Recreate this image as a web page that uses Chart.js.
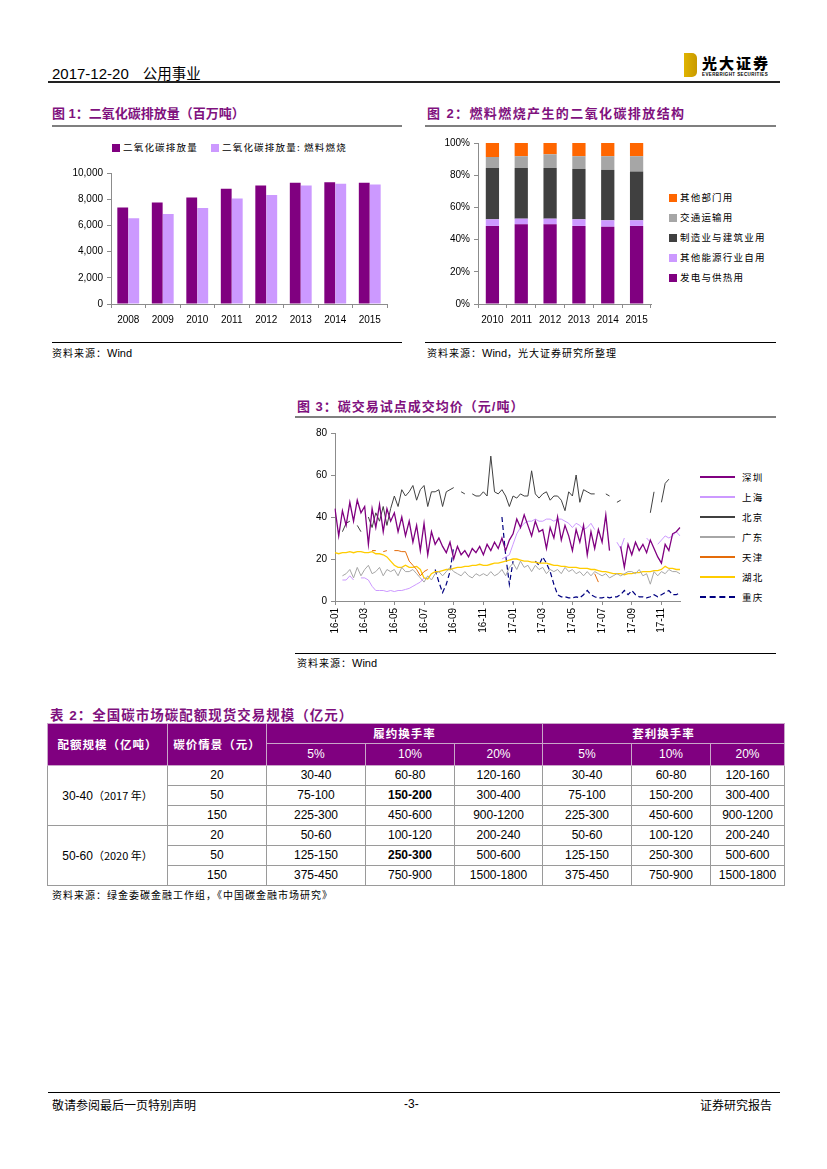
<!DOCTYPE html>
<html>
<head>
<meta charset="utf-8">
<script src="https://cdn.jsdelivr.net/npm/chart.js"></script>
<style>
  body { margin: 0; width: 827px; height: 1169px; background: #fff; position: relative; font-family: "Liberation Sans", Arial, sans-serif; color: #000; }
  .abs { position: absolute; }
  .cjk { font-family: "Noto Sans CJK SC", sans-serif; }
  .title { position: absolute; font-family: "Liberation Sans", "Noto Sans CJK SC", sans-serif; font-weight: bold; font-size: 13px; color: #7f117e; letter-spacing: 1px; white-space: nowrap; }
  .gline { position: absolute; height: 2px; background: #7f7f7f; }
  .bline { position: absolute; height: 1px; background: #000; }
  .src { position: absolute; font-size: 11px; white-space: nowrap; }
  .src .c { font-family: "Noto Sans CJK SC", sans-serif; font-size: 10px; letter-spacing: 1px; }
  .leg { position: absolute; font-family: "Noto Sans CJK SC", sans-serif; font-size: 9.5px; letter-spacing: 1.2px; white-space: nowrap; line-height: 12px; }
  .leg i { display: inline-block; width: 8px; height: 8px; vertical-align: -1px; margin-right: 3px; }
  .leg b { display: inline-block; width: 35px; height: 0; vertical-align: 3px; margin-right: 7px; }
  canvas { position: absolute; }
  table { position: absolute; left: 47px; top: 723px; border-collapse: collapse; table-layout: fixed; font-size: 12px; }
  td, th { padding: 0; text-align: center; border: 1px solid #9a9a9a; height: 19px; line-height: 19px; }
  th { background: #800080; color: #fff; border-color: #c9a6c9; font-weight: normal; }
  th.cj { font-family: "Noto Sans CJK SC", sans-serif; font-weight: bold; font-size: 11.5px; letter-spacing: 1px; }
  td.cj small { font-family: "Noto Sans CJK SC", sans-serif; font-size: 11px; }
</style>
</head>
<body>
<!-- header -->
<div class="abs" style="left:52px;top:62px;font-size:15px;white-space:nowrap;">2017-12-20<span class="cjk" style="margin-left:14px;font-size:14.5px;">公用事业</span></div>
<div class="abs" style="left:684px;top:53px;width:13px;height:24px;background:linear-gradient(90deg,#e0b400,#c99a00);border-radius:0 5px 5px 0;"></div>
<div class="abs cjk" style="left:702px;top:52px;font-size:15px;font-weight:900;letter-spacing:2px;">光大证券</div>
<div class="abs" style="left:702px;top:72px;font-size:4.5px;font-weight:bold;letter-spacing:0.4px;">EVERBRIGHT SECURITIES</div>
<div class="abs" style="left:48px;top:81px;width:732px;height:2px;background:#222;"></div>

<!-- figure 1 -->
<div class="title" style="left:52px;top:103px;letter-spacing:0;">图 1：二氧化碳排放量（百万吨）</div>
<div class="gline" style="left:52px;top:125px;width:350px;"></div>
<div class="leg" style="left:112px;top:141px;"><i style="background:#800080"></i>二氧化碳排放量</div>
<div class="leg" style="left:211px;top:141px;"><i style="background:#cc99ff"></i>二氧化碳排放量: 燃料燃烧</div>
<canvas id="c1" width="345" height="170" style="left:52px;top:163px;"></canvas>
<div class="bline" style="left:52px;top:342px;width:350px;"></div>
<div class="src" style="left:52px;top:345px;"><span class="c">资料来源：</span>Wind</div>

<!-- figure 2 -->
<div class="title" style="left:427px;top:103px;letter-spacing:1.4px;">图 2：燃料燃烧产生的二氧化碳排放结构</div>
<div class="gline" style="left:425px;top:125px;width:351px;"></div>
<canvas id="c2" width="236" height="200" style="left:425px;top:133px;"></canvas>
<div id="leg2"></div>
<div class="bline" style="left:425px;top:342px;width:351px;"></div>
<div class="src" style="left:427px;top:345px;"><span class="c">资料来源：</span>Wind<span class="c">，光大证券研究所整理</span></div>

<!-- figure 3 -->
<div class="title" style="left:297px;top:396px;">图 3：碳交易试点成交均价（元/吨）</div>
<div class="gline" style="left:295px;top:416px;width:481px;"></div>
<canvas id="c3" width="393" height="220" style="left:297px;top:423px;"></canvas>
<div id="leg3"></div>
<div class="bline" style="left:295px;top:653px;width:481px;"></div>
<div class="src" style="left:297px;top:655px;"><span class="c">资料来源：</span>Wind</div>

<!-- table 2 -->
<div class="title" style="left:50px;top:704px;font-size:13.5px;">表 2：全国碳市场碳配额现货交易规模（亿元）</div>
<table>
  <colgroup><col style="width:120px"><col style="width:99px"><col style="width:99px"><col style="width:89px"><col style="width:88px"><col style="width:89px"><col style="width:79px"><col style="width:74px"></colgroup>
  <tr><th class="cj" rowspan="2" style="height:40px">配额规模（亿吨）</th><th class="cj" rowspan="2">碳价情景（元）</th><th class="cj" colspan="3">履约换手率</th><th class="cj" colspan="3">套利换手率</th></tr>
  <tr><th style="height:21px">5%</th><th>10%</th><th>20%</th><th>5%</th><th>10%</th><th>20%</th></tr>
  <tr><td class="cj" rowspan="3">30-40<small>（2017 年）</small></td><td>20</td><td>30-40</td><td>60-80</td><td>120-160</td><td>30-40</td><td>60-80</td><td>120-160</td></tr>
  <tr><td>50</td><td>75-100</td><td><b>150-200</b></td><td>300-400</td><td>75-100</td><td>150-200</td><td>300-400</td></tr>
  <tr><td>150</td><td>225-300</td><td>450-600</td><td>900-1200</td><td>225-300</td><td>450-600</td><td>900-1200</td></tr>
  <tr><td class="cj" rowspan="3">50-60<small>（2020 年）</small></td><td>20</td><td>50-60</td><td>100-120</td><td>200-240</td><td>50-60</td><td>100-120</td><td>200-240</td></tr>
  <tr><td>50</td><td>125-150</td><td><b>250-300</b></td><td>500-600</td><td>125-150</td><td>250-300</td><td>500-600</td></tr>
  <tr><td>150</td><td>375-450</td><td>750-900</td><td>1500-1800</td><td>375-450</td><td>750-900</td><td>1500-1800</td></tr>
</table>
<div class="src" style="left:52px;top:887px;"><span class="c">资料来源：绿金委碳金融工作组，《中国碳金融市场研究》</span></div>

<!-- footer -->
<div class="abs" style="left:48px;top:1092px;width:732px;height:1px;background:#000;"></div>
<div class="abs cjk" style="left:52px;top:1096px;font-size:12px;">敬请参阅最后一页特别声明</div>
<div class="abs" style="left:404px;top:1097px;font-size:12px;">-3-</div>
<div class="abs cjk" style="left:700px;top:1096px;font-size:12px;">证券研究报告</div>

<script>
// figure 1 data
let years1 = ['2008', '2009', '2010', '2011', '2012', '2013', '2014', '2015'];
let co2Total = [7375, 7750, 8125, 8800, 9050, 9250, 9300, 9250];
let co2Fuel = [6550, 6875, 7325, 8050, 8325, 9050, 9175, 9125];

// figure 2 data (%)
let years2 = ['2010', '2011', '2012', '2013', '2014', '2015'];
let powerHeat = [48.5, 49.5, 49.5, 48.5, 48, 48.5];
let otherEnergy = [4.1, 3.5, 3.5, 4.1, 4, 3.5];
let manufacturing = [31.9, 31.5, 31.5, 31.3, 31.3, 30.3];
let transport = [6.8, 7.3, 8.5, 7.9, 8.5, 9.5];
let otherSectors = [8.7, 8.2, 7, 8.2, 8.2, 8.2];

// figure 3 data, about weekly (4 points per month)
let months3 = ['16-01', '16-02', '16-03', '16-04', '16-05', '16-06', '16-07', '16-08', '16-09', '16-10', '16-11', '16-12',
               '17-01', '17-02', '17-03', '17-04', '17-05', '17-06', '17-07', '17-08', '17-09', '17-10', '17-11', '17-12'];
let shenzhen = [44,31,43,36, 47,38,48,42, 45,27,44,35, 46,33,44,38, 42,33,40,31, 38,28,36,24,
                37,22,33,27, 30,26,23,28, 20,26,22,24, 21,25,23,26, 22,27,24,28, 25,30,24,29,
                32,39,35,41, 36,31,38,33, 34,25,35,30, 40,29,36,31, 24,34,28,36, 22,33,25,34,
                28,41,24,null, null,26,16,27, 22,28,24,27, 23,29,25,21, 18,27,24,32, 33,35];
let shanghai = [11,null,10,10, 12,10,null,11, 11,10,7,5, 5,5,4.5,5, 4.5,5,5,5.5, 6,7,8,9,
                11,null,null,null, null,null,null,null, null,null,null,null, null,null,null,null, null,null,null,null, null,20,21,22,
                27,32,35,37, 38,38,39,38, 38,39,39,38, 39,39,38,37, 35,37,36,34, 35,37,34,null,
                null,null,null,null, 28,25,30,null, null,null,null,null, 30,28,null,27, 29,31,30,31, 33,31];
let beijing = [null,null,33,37, 38,null,36,33, null,40,35,42, 38,45,36,44, 50,45,53,50, 52,55,48,53,
               55,45,52,52, 53,45,52,53, 54,null,52,51, null,51,50,50, 52,50,69,52, 51,53,50,45,
               50,49,51,50, 50,62,51,49, 51,52,48,50, 50,48,43,52, 50,60,47,53, 52,51,51,null,
               null,51,50,null, 47,48,null,null, null,null,null,null, null,42,52,null, 47,56,58,null, null,null];
let guangdong = [15,null,12,13, 15,11,16,12, 15,17,13,14, 16,12,15,14, 15,12,16,14, 14,15,13,11,
                 9,12,10,13, 14,12,14,16, 14,13,12,14, 12,11,13,12, 13,12,14,12, 13,15,12,16,
                 18,15,19,16, 17,14,17,15, 16,13,15,14, 15,13,16,14, 15,13,14,12, 14,12,14,13,
                 12,13,11,12, 13,12,13,14, 14,13,15,12, 13,8,14,12, 14,13,15,14, 14,13];
let tianjin = [null,null,null,null, null,null,null,null, null,null,24,24, null,23.5,24,null, 24,24,23.5,23.5, 19,17,15,12,
               14,15,null,null, null,null,null,null, null,null,null,null, null,null,null,null, null,null,null,null, null,null,null,null,
               null,null,null,null, null,null,null,null, null,null,null,null, null,null,null,null, null,null,null,null, null,null,13,9,
               null,null,null,null, null,null,null,null, null,null,null,null, null,null,null,null, null,null,null,null, null,null];
let hubei = [23,22.5,23,23, 23.5,23,23.5,23.5, 23,23,23.5,22.5, 22.5,22,21,19, 17,16,16,17, 16,16,16.5,15,
             11,10.5,13,14, 14,14.5,15,15, 15.5,16,16,16.5, 16.5,17,17,17.5, 17,17,17.5,18, 18,18.5,19,19.5,
             20,20,19.5,19, 19,18.5,18.5,18, 18,18,17.5,17, 17,16.5,16.5,16, 16,16,15.5,15.5, 15.5,15,15,14.5,
             14,14,13.5,13, 13,13,12.5,13, 13,13.5,13.5,14, 14,14,14.5,14.5, 15,16.5,15.5,15.5, 15,15];
let chongqing = [null,null,null,null, null,null,null,null, null,null,null,null, null,null,null,null, null,null,null,null, null,null,null,null,
                 null,null,null,15, 9,4,8,14, 26,null,null,null, null,null,null,null, null,null,null,null, null,40,22,8,
                 19,null,null,null, null,null,19,17, 21,18,14,8, 3,2,2,1.5, 1.5,2,1.5,3, 5,3,2,1.5,
                 1.5,2,1.5,2, 2,3,5,3, 5,3,2,2, 1.5,2,3,2, 3,4,5,3, 3,4];

let labels3 = [];
months3.forEach(m => { for (let k = 0; k < 4; k++) labels3.push(m); });
labels3 = labels3.slice(0, shenzhen.length);

const tickFont = { family: '"Liberation Sans", Arial, sans-serif', size: 10 };
const axisColor = '#8c8c8c';

// figure 1
new Chart(document.getElementById('c1').getContext('2d'), {
    type: 'bar',
    data: {
        labels: years1,
        datasets: [
            { label: '二氧化碳排放量', data: co2Total, backgroundColor: '#800080', categoryPercentage: 0.64, barPercentage: 0.98 },
            { label: '二氧化碳排放量: 燃料燃烧', data: co2Fuel, backgroundColor: '#cc99ff', categoryPercentage: 0.64, barPercentage: 0.98 }
        ]
    },
    options: {
        animation: false, responsive: false,
        layout: { padding: { top: 8, right: 10 } },
        plugins: { legend: { display: false }, tooltip: { enabled: false } },
        scales: {
            x: {
                grid: { drawOnChartArea: false, tickLength: 4, color: axisColor },
                border: { color: axisColor },
                ticks: { font: tickFont, color: '#000', padding: 6 },
                afterFit: s => { s.height = 29; }
            },
            y: {
                min: 0, max: 10000,
                grid: { drawOnChartArea: false, tickLength: 4, color: axisColor },
                border: { color: axisColor },
                ticks: { stepSize: 2000, font: tickFont, color: '#000', padding: 4,
                         callback: v => v.toLocaleString('en-US') },
                afterFit: s => { s.width = 59; }
            }
        }
    }
});

// figure 2
let series2 = [
    { label: '发电与供热用', data: powerHeat, color: '#800080' },
    { label: '其他能源行业自用', data: otherEnergy, color: '#cc99ff' },
    { label: '制造业与建筑业用', data: manufacturing, color: '#404040' },
    { label: '交通运输用', data: transport, color: '#a6a6a6' },
    { label: '其他部门用', data: otherSectors, color: '#ff6600' }
];
new Chart(document.getElementById('c2').getContext('2d'), {
    type: 'bar',
    data: {
        labels: years2,
        datasets: series2.map(s => ({ label: s.label, data: s.data, backgroundColor: s.color, categoryPercentage: 0.5, barPercentage: 0.92 }))
    },
    options: {
        animation: false, responsive: false,
        layout: { padding: { top: 10, right: 10 } },
        plugins: { legend: { display: false }, tooltip: { enabled: false } },
        scales: {
            x: {
                stacked: true,
                grid: { drawOnChartArea: false, tickLength: 4, color: axisColor },
                border: { color: axisColor },
                ticks: { font: tickFont, color: '#000', padding: 6 },
                afterFit: s => { s.height = 29; }
            },
            y: {
                stacked: true, min: 0, max: 100,
                grid: { drawOnChartArea: false, tickLength: 4, color: axisColor },
                border: { color: axisColor },
                ticks: { stepSize: 20, font: tickFont, color: '#000', padding: 4, callback: v => v + '%' },
                afterFit: s => { s.width = 53; }
            }
        }
    }
});
let leg2 = document.getElementById('leg2');
series2.slice().reverse().forEach((s, i) => {
    let d = document.createElement('div');
    d.className = 'leg';
    d.style.left = '669px';
    d.style.top = (191 + i * 20) + 'px';
    d.innerHTML = '<i style="background:' + s.color + '"></i>' + s.label;
    leg2.appendChild(d);
});

// figure 3
let series3 = [
    { label: '深圳', data: shenzhen, color: '#800080', width: 1.3 },
    { label: '上海', data: shanghai, color: '#cc99ff', width: 1 },
    { label: '北京', data: beijing, color: '#404040', width: 1 },
    { label: '广东', data: guangdong, color: '#a6a6a6', width: 1 },
    { label: '天津', data: tianjin, color: '#e46c0a', width: 1 },
    { label: '湖北', data: hubei, color: '#ffcc00', width: 1.3 },
    { label: '重庆', data: chongqing, color: '#000080', width: 1.2, dash: [5, 3] }
];
new Chart(document.getElementById('c3').getContext('2d'), {
    type: 'line',
    data: {
        labels: labels3,
        datasets: series3.map(s => ({
            label: s.label, data: s.data, borderColor: s.color, borderWidth: s.width,
            borderDash: s.dash || [], pointRadius: 0, tension: 0, spanGaps: false
        }))
    },
    options: {
        animation: false, responsive: false,
        layout: { padding: { top: 10, right: 10 } },
        plugins: { legend: { display: false }, tooltip: { enabled: false } },
        scales: {
            x: {
                grid: { drawOnChartArea: false, tickLength: 4, color: axisColor },
                border: { color: axisColor },
                ticks: { font: tickFont, color: '#000', autoSkip: false, minRotation: 90, maxRotation: 90, padding: 3 },
                afterBuildTicks: axis => { axis.ticks = axis.ticks.filter((t, i) => i % 8 === 0); },
                afterFit: s => { s.height = 42; }
            },
            y: {
                min: 0, max: 80,
                grid: { drawOnChartArea: false, tickLength: 4, color: axisColor },
                border: { color: axisColor },
                ticks: { stepSize: 20, font: tickFont, color: '#000', padding: 4 },
                afterFit: s => { s.width = 38; }
            }
        }
    }
});
let leg3 = document.getElementById('leg3');
series3.forEach((s, i) => {
    let d = document.createElement('div');
    d.className = 'leg';
    d.style.left = '700px';
    d.style.top = (471 + i * 20) + 'px';
    let style = s.dash ? 'border-top:2px dashed ' + s.color : 'border-top:2px solid ' + s.color;
    d.innerHTML = '<b style="' + style + '"></b>' + s.label;
    leg3.appendChild(d);
});
</script>
</body>
</html>
